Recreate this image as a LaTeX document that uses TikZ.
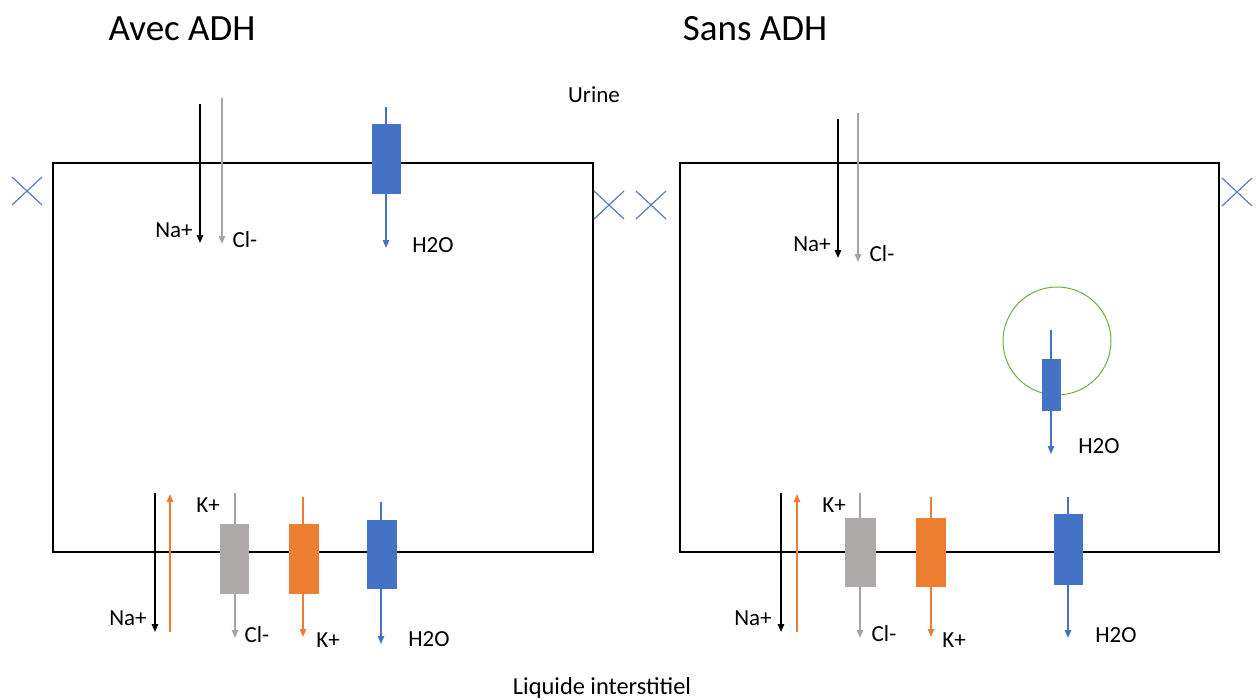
\documentclass[tikz,border=0pt]{standalone}
\usepackage{fontspec}
\setmainfont{Carlito}
\usetikzlibrary{arrows.meta}
\definecolor{h2oblue}{HTML}{4472C4}
\definecolor{korange}{HTML}{ED7D31}
\definecolor{clgray}{HTML}{AEAAAA}
\definecolor{clarrow}{HTML}{A5A5A5}
\definecolor{circgreen}{HTML}{70AD47}
\definecolor{crossblue}{HTML}{5B7BBE}
\tikzset{
  cell/.style={draw=black, line width=1pt},
  flow/.style={line width=0.8pt, -{Triangle[length=4pt,width=3.2pt]}},
  chan/.style={draw=none, minimum width=15pt, inner sep=0pt},
  lab/.style={inner sep=0pt, font=\fontsize{11.5}{13}\selectfont},
  biglab/.style={inner sep=0pt, font=\fontsize{12.2}{14}\selectfont},
  ttl/.style={inner sep=0pt, font=\fontsize{18.5}{22}\selectfont},
  xmark/.style={draw=crossblue, line width=0.6pt},
}
\newcommand{\xcross}[3]{%
  \coordinate (#1) at (#2,#3);
  \draw[xmark] ($(#1)+(-15,-14)$) -- ($(#1)+(15,14)$);
  \draw[xmark] ($(#1)+(-15,14)$) -- ($(#1)+(15,-14)$);}
\usetikzlibrary{calc}
\begin{document}
\begin{tikzpicture}[x=0.5pt,y=-0.5pt]
\useasboundingbox (0,0) rectangle (1256,700);
% titles
\node[ttl] (t1) at (182,29) {Avec ADH};
\node[ttl] (t2) at (755,29) {Sans ADH};
\node[lab] (urine) at (594,95) {Urine};
\node[biglab] (liq) at (602,688) {Liquide interstitiel};
% cells
\node[cell, minimum width=270pt, minimum height=194.5pt, inner sep=0pt] (cellL) at (323,357.5) {};
\node[cell, minimum width=269.5pt, minimum height=194.5pt, inner sep=0pt] (cellR) at (949.5,357.5) {};
% crosses
\xcross{xa}{27}{191}
\xcross{xb}{609}{205}
\xcross{xc}{651}{205}
\xcross{xd}{1237}{192}

% ===== Left: apical =====
\coordinate (lnaA) at (200,104); \coordinate (lnaB) at (200,243);
\draw[flow, black] (lnaA) -- (lnaB);
\coordinate (lclA) at (222,98); \coordinate (lclB) at (222,244);
\draw[flow, clarrow] (lclA) -- (lclB);
\node[lab] (lnaT) at (174,230) {Na+};
\node[lab] (lclT) at (245,240) {Cl-};
\coordinate (lwA) at (386,107); \coordinate (lwB) at (386,248);
\draw[flow, h2oblue] (lwA) -- (lwB);
\node[chan, fill=h2oblue, minimum width=14.5pt, minimum height=35pt] (lwC) at (386,159) {};
\node[lab] (lwT) at (433,245) {H2O};

% ===== Left: basal =====
\coordinate (lbnaA) at (155,493); \coordinate (lbnaB) at (155,632);
\draw[flow, black] (lbnaA) -- (lbnaB);
\coordinate (lbkA) at (170,632); \coordinate (lbkB) at (170,494);
\draw[flow, korange] (lbkA) -- (lbkB);
\node[lab] (lbkT) at (208,505) {K+};
\node[lab] (lbnaT) at (128,618) {Na+};
\coordinate (lbclA) at (235,493); \coordinate (lbclB) at (235,638);
\draw[flow, clarrow] (lbclA) -- (lbclB);
\node[chan, fill=clgray, minimum width=14.5pt, minimum height=35pt] (lbclC) at (234.5,559) {};
\node[lab] (lbclT) at (257,635) {Cl-};
\coordinate (lbk2A) at (303,497); \coordinate (lbk2B) at (303,637);
\draw[flow, korange] (lbk2A) -- (lbk2B);
\node[chan, fill=korange, minimum width=15pt, minimum height=35pt] (lbkC) at (304,559) {};
\node[lab] (lbk2T) at (328,640) {K+};
\coordinate (lbwA) at (381,502); \coordinate (lbwB) at (381,644);
\draw[flow, h2oblue] (lbwA) -- (lbwB);
\node[chan, fill=h2oblue, minimum width=15pt, minimum height=34.5pt] (lbwC) at (382,554.5) {};
\node[lab] (lbwT) at (429,639) {H2O};

% ===== Right: apical =====
\coordinate (rnaA) at (838,119); \coordinate (rnaB) at (838,258);
\draw[flow, black] (rnaA) -- (rnaB);
\coordinate (rclA) at (858,113); \coordinate (rclB) at (858,262);
\draw[flow, clarrow] (rclA) -- (rclB);
\node[lab] (rnaT) at (812,244) {Na+};
\node[lab] (rclT) at (882,254) {Cl-};
% circle with internal water channel
\node[draw=circgreen, line width=0.5pt, circle, minimum size=54pt, inner sep=0pt] (circ) at (1057,341) {};
\coordinate (rwA) at (1051,330); \coordinate (rwB) at (1051,454);
\draw[flow, h2oblue] (rwA) -- (rwB);
\node[chan, fill=h2oblue, minimum width=9.5pt, minimum height=26pt] (rwC) at (1051.5,385) {};
\node[lab] (rwT) at (1099,446) {H2O};

% ===== Right: basal =====
\coordinate (rbnaA) at (781,493); \coordinate (rbnaB) at (781,632);
\draw[flow, black] (rbnaA) -- (rbnaB);
\coordinate (rbkA) at (797,632); \coordinate (rbkB) at (797,494);
\draw[flow, korange] (rbkA) -- (rbkB);
\node[lab] (rbkT) at (834,505) {K+};
\node[lab] (rbnaT) at (753,618) {Na+};
\coordinate (rbclA) at (860,493); \coordinate (rbclB) at (860,638);
\draw[flow, clarrow] (rbclA) -- (rbclB);
\node[chan, fill=clgray, minimum width=15.5pt, minimum height=34.5pt] (rbclC) at (860.5,552.5) {};
\node[lab] (rbclT) at (884,634) {Cl-};
\coordinate (rbk2A) at (931,497); \coordinate (rbk2B) at (931,637);
\draw[flow, korange] (rbk2A) -- (rbk2B);
\node[chan, fill=korange, minimum width=15pt, minimum height=34.5pt] (rbkC) at (931,552.5) {};
\node[lab] (rbk2T) at (954,640) {K+};
\coordinate (rbwA) at (1068,497); \coordinate (rbwB) at (1068,638);
\draw[flow, h2oblue] (rbwA) -- (rbwB);
\node[chan, fill=h2oblue, minimum width=14.5pt, minimum height=35.5pt] (rbwC) at (1068.5,549.5) {};
\node[lab] (rbwT) at (1116,635) {H2O};
\end{tikzpicture}
\end{document}
